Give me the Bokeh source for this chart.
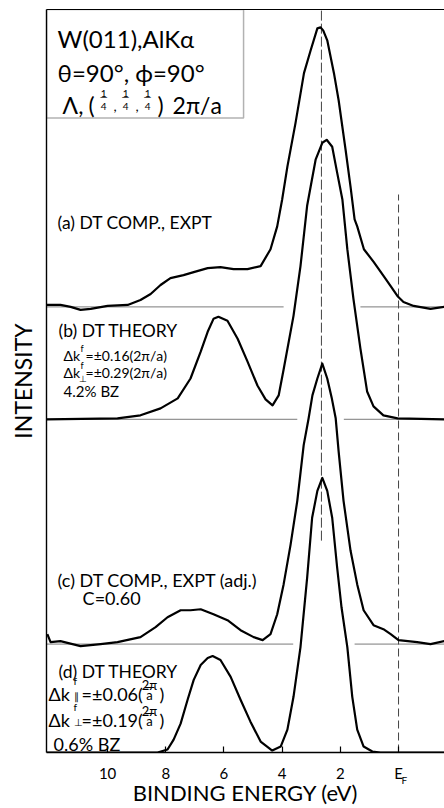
import numpy as np
from bokeh.plotting import figure
from bokeh.models import (Range1d, LinearAxis, FixedTicker, Label,
                          BoxAnnotation, ColumnDataSource)
from bokeh.embed import file_html
from bokeh.resources import INLINE

# ---- spectra: binding energy (eV) vs intensity (arb. units) ----
energy_a = [12.10, 11.62, 11.27, 10.93, 10.58, 10.00, 9.31, 8.87, 8.52, 8.18,
            7.84, 7.39, 7.04, 6.56, 6.12, 5.67, 5.19, 4.74, 4.40, 4.17,
            4.00, 3.82, 3.54, 3.25, 3.02, 2.79, 2.68, 2.59, 2.45, 2.22,
            2.06, 1.82, 1.65, 1.51, 1.42, 1.19, 0.85, 0.51, 0.27, 0.04,
            -0.17, -0.52, -1.10, -1.58]
int_a = [2, 2, 0, -3, -2, 1, 2, 7, 13, 22,
         29, 32, 35, 39, 40, 38, 38, 41, 58, 81,
         108, 141, 185, 235, 258, 280, 281, 278, 268, 235,
         208, 158, 121, 88, 81, 58, 45, 31, 21, 11,
         5, 1, -2, 0]

energy_b = [12.10, 9.66, 8.87, 8.18, 7.59, 7.15, 6.80, 6.56, 6.36, 6.19,
            5.88, 5.53, 5.19, 4.85, 4.57, 4.33, 4.12, 3.95, 3.61, 3.37,
            3.14, 3.02, 2.85, 2.62, 2.47, 2.28, 2.11, 1.93, 1.76, 1.55,
            1.31, 1.08, 0.86, 0.52, 0.03, -1.58]
int_b = [0, 1, 4, 11, 21, 41, 68, 88, 101, 103,
         99, 81, 58, 34, 20, 14, 24, 50, 104, 154,
         215, 234, 261, 278, 281, 274, 248, 221, 171, 121,
         71, 28, 13, 4, 1, 0]

energy_c = [12.07, 11.96, 11.62, 10.93, 10.24, 9.66, 8.87, 8.35, 7.94, 7.49,
            7.15, 6.80, 6.36, 5.88, 5.43, 4.98, 4.67, 4.40, 4.17, 3.95,
            3.71, 3.48, 3.26, 3.09, 2.96, 2.79, 2.62, 2.45, 2.30, 2.16,
            2.06, 1.89, 1.65, 1.42, 1.20, 0.86, 0.52, 0.27, 0.00, -0.64,
            -1.10, -1.58]
int_c = [10, 2, 3, -2, 0, 2, 7, 17, 27, 34,
         34, 35, 30, 24, 14, 7, 4, 10, 30, 60,
         100, 144, 200, 227, 250, 267, 282, 267, 248, 227,
         194, 144, 94, 60, 34, 19, 15, 10, 4, 2,
         0, 3]

energy_d = [12.10, 8.28, 7.94, 7.73, 7.49, 7.25, 7.04, 6.80, 6.56, 6.39,
            6.12, 5.77, 5.43, 5.09, 4.74, 4.34, 4.05, 3.82, 3.61, 3.37,
            3.14, 2.97, 2.79, 2.62, 2.45, 2.28, 2.11, 1.96, 1.76, 1.59,
            1.42, 1.20, 0.90, 0.62, -1.58]
int_d = [0, 0, 3, 13, 29, 53, 73, 88, 95, 97,
         93, 76, 53, 31, 11, 2, 6, 23, 56, 106,
         176, 236, 263, 276, 263, 236, 186, 146, 106, 56,
         23, 6, 1, 0, 0]

# vertical offsets that stack the four spectra
offset_a, offset_b, offset_c, offset_d = 448, 335, 109, 0

peak_energy = 2.65     # main d-band peak
fermi_energy = 0.0     # E_F

tick_values = [10, 8, 6, 4, 2, 0]
tick_labels = {0: "E"}
fermi_sub_pos = -0.2
fermi_sub_label = {fermi_sub_pos: "F"}

# ---- figure ----
X_LEFT, X_RIGHT = 12.10, -1.58
Y_TOP = 747
p = figure(width=444, height=808, output_backend="svg", toolbar_location=None,
           x_range=Range1d(X_LEFT, X_RIGHT), y_range=Range1d(0, Y_TOP),
           min_border_left=46, min_border_right=0, min_border_top=9,
           min_border_bottom=52, x_axis_type=None, y_axis_type=None,
           background_fill_color="white", border_fill_color="white",
           outline_line_color=None)
p.xgrid.visible = False
p.ygrid.visible = False

FONT = "Lato"


def bare(axis):
    axis.major_tick_in = 0
    axis.major_tick_out = 0
    axis.minor_tick_line_color = None
    axis.major_tick_line_color = None


# energy axis: tick marks and numbers
xaxis = LinearAxis(ticker=FixedTicker(ticks=tick_values),
                   major_label_overrides=tick_labels)
xaxis.major_tick_in = 6
xaxis.major_tick_out = 0
xaxis.minor_tick_line_color = None
xaxis.axis_line_color = "black"
xaxis.axis_line_width = 1.4
xaxis.major_tick_line_color = "black"
xaxis.major_tick_line_width = 1.2
xaxis.major_label_text_font = FONT
xaxis.major_label_text_font_size = "15px"
xaxis.major_label_text_color = "black"
xaxis.major_label_standoff = 11
p.add_layout(xaxis, "below")

# second row under the energy axis: subscript of E_F and the axis title
xsub = LinearAxis(ticker=FixedTicker(ticks=[fermi_sub_pos]),
                  major_label_overrides=fermi_sub_label,
                  axis_label="BINDING ENERGY (eV)")
bare(xsub)
xsub.axis_line_color = None
xsub.major_label_text_font = FONT
xsub.major_label_text_font_size = "10px"
xsub.major_label_text_color = "black"
xsub.major_label_standoff = -11
xsub.axis_label_text_font = FONT
xsub.axis_label_text_font_size = "22px"
xsub.axis_label_text_font_style = "normal"
xsub.axis_label_text_color = "black"
xsub.axis_label_standoff = -10
p.add_layout(xsub, "below")

yaxis = LinearAxis(ticker=FixedTicker(ticks=[]), axis_label="INTENSITY")
bare(yaxis)
yaxis.major_label_text_font_size = "0px"
yaxis.major_label_standoff = 0
yaxis.axis_line_color = "black"
yaxis.axis_line_width = 1.4
yaxis.axis_label_text_font = FONT
yaxis.axis_label_text_font_size = "23px"
yaxis.axis_label_text_font_style = "normal"
yaxis.axis_label_text_color = "black"
yaxis.axis_label_standoff = 10
p.add_layout(yaxis, "left")

top = LinearAxis(ticker=FixedTicker(ticks=[]))
bare(top)
top.major_label_text_font_size = "0px"
top.major_label_standoff = 0
top.axis_line_color = "black"
top.axis_line_width = 1.2
p.add_layout(top, "above")

# ---- baselines (interrupted where the peaks cross) ----
BASE_COLOR = "#7a7a7a"
gaps = {offset_a: (3.95, 1.31), offset_b: (3.48, 1.88), offset_c: (3.62, 1.51)}
for off, (g0, g1) in gaps.items():
    p.segment(x0=[X_LEFT, g1], x1=[g0, X_RIGHT], y0=[off, off], y1=[off, off],
              line_color=BASE_COLOR, line_width=1)

# ---- reference lines ----
p.segment(x0=[peak_energy], x1=[peak_energy], y0=[213], y1=[Y_TOP],
          line_color="#444444", line_width=1, line_dash="10 3")
p.segment(x0=[fermi_energy], x1=[fermi_energy], y0=[0], y1=[561],
          line_color="#444444", line_width=1, line_dash="8 4")

# ---- spectra ----
for e, i, off in ((energy_a, int_a, offset_a), (energy_b, int_b, offset_b),
                  (energy_c, int_c, offset_c), (energy_d, int_d, offset_d)):
    src = ColumnDataSource(dict(x=e, y=np.asarray(i, dtype=float) + off))
    p.line("x", "y", source=src, line_color="black", line_width=2.2,
           line_join="round")

# ---- annotations ----
def ex(px):
    return (398.0 - px) / 29.1


def ey(py):
    return 756.0 - py


def note(px, py, text, size, align="left", baseline="alphabetic"):
    p.add_layout(Label(x=ex(px), y=ey(py), text=text, text_font=FONT,
                       text_font_size=f"{size}px", text_color="black",
                       text_align=align, text_baseline=baseline))


# header box
p.add_layout(BoxAnnotation(left=X_LEFT, right=ex(243), top=Y_TOP, bottom=ey(118),
                           fill_color=None, line_color="black", line_width=1.5))
note(57, 38, "W(011),AlKα", 24)
note(57, 72, "θ=90°, ϕ=90°", 24)
note(62, 105, "Λ,", 23)
note(88, 105, "(", 23)
for cx in (103, 125, 147):
    note(cx, 93, "1", 10, align="center")
    note(cx, 96, "—", 10, align="center", baseline="middle")
    note(cx, 107, "4", 10, align="center")
note(113, 106, ",", 14)
note(135, 106, ",", 14)
note(157, 105, ")", 23)
note(172, 105, "2π/a", 23)

# (a)
note(57, 223, "(a) DT COMP., EXPT", 17.5)

# (b)
note(58, 332, "(b) DT THEORY", 17.5)
note(63, 357, "Δk", 14)
note(80, 350, "f", 9)
note(85, 357, "=±0.16(2π/a)", 14)
note(63, 374, "Δk", 14)
note(80, 367, "f", 9)
note(78, 380, "⊥", 9)
note(85, 374, "=±0.29(2π/a)", 14)
note(63, 393, "4.2% BZ", 15)

# (c)
note(57, 583, "(c) DT COMP., EXPT (adj.)", 18)
note(82, 601, "C=0.60", 18)

# (d)
note(58, 675, "(d) DT THEORY", 17.5)
for py, val, sub in ((697, "=±0.06(", "∥"), (723, "=±0.19(", "⊥")):
    note(48, py, "Δk", 18)
    note(73, py - 13, "f", 10)
    note(73, py + 2, sub, 10)
    note(81, py, val, 18)
    note(149, py - 9, "2π", 13, align="center")
    note(149, py - 7, "—", 14, align="center", baseline="middle")
    note(149, py + 1, "a", 13, align="center")
    note(159, py, ")", 18)
note(53, 747, "0.6% BZ", 18)

open("out.html", "w").write(file_html(p, INLINE))
